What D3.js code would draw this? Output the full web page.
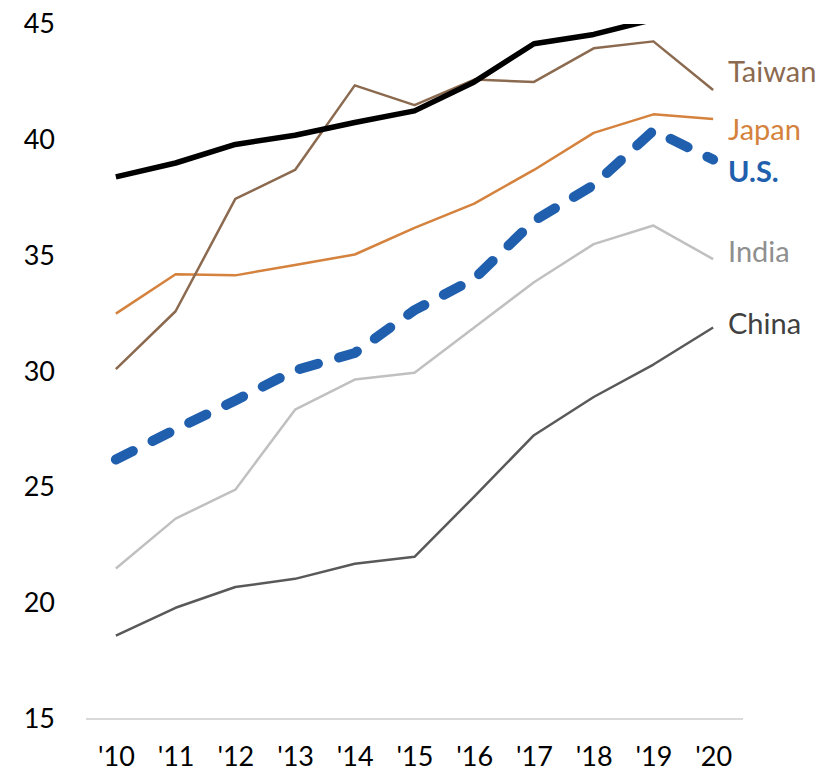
<!DOCTYPE html>
<html>
<head>
<meta charset="utf-8">
<script src="https://cdn.jsdelivr.net/npm/d3@7"></script>
<style>
  html, body { margin: 0; padding: 0; background: #fff; }
  svg { display: block; font-family: Lato, "Open Sans", sans-serif; }
</style>
</head>
<body>
<svg id="chart" width="834" height="773"></svg>
<script>
// Years on the category axis
const years = ["'10", "'11", "'12", "'13", "'14", "'15", "'16", "'17", "'18", "'19", "'20"];
const yTicks = [15, 20, 25, 30, 35, 40, 45];

// Series values, one per year
const leader = [38.4, 39.0, 39.8, 40.2, 40.75, 41.25, 42.5, 44.15, 44.55, 45.2, 46.0];
const taiwan = [30.1, 32.6, 37.45, 38.7, 42.35, 41.5, 42.6, 42.5, 43.95, 44.25, 42.15];
const japan  = [32.5, 34.2, 34.15, 34.6, 35.05, 36.2, 37.25, 38.7, 40.3, 41.1, 40.9];
const us     = [26.2, 27.5, 28.75, 30.05, 30.8, 32.65, 34.0, 36.5, 38.05, 40.4, 39.15];
const india  = [21.5, 23.65, 24.9, 28.35, 29.65, 29.95, 31.9, 33.85, 35.5, 36.3, 34.85];
const china  = [18.6, 19.8, 20.7, 21.05, 21.7, 22.0, 24.6, 27.25, 28.9, 30.3, 31.9];

const series = [
  { name: "India",  values: india,  color: "#c0c0c0", width: 2.5, label: "#8f8f8f", dy: 3 },
  { name: "China",  values: china,  color: "#595959", width: 2.5, label: "#404040", dy: 7 },
  { name: "Japan",  values: japan,  color: "#d4823d", width: 2.5, label: "#d4823d", dy: 21 },
  { name: "Taiwan", values: taiwan, color: "#8b6a4f", width: 2.5, label: "#8b6a4f", dy: -8 },
  { name: "",       values: leader, color: "#000000", width: 5.5 },
  { name: "U.S.",   values: us,     color: "#1f5fad", width: 10,  label: "#1f5fad", dy: 22, dash: "19 22", bold: true }
];

const svg = d3.select("#chart");
const plotLeft = 86, plotRight = 743, plotTop = 24, plotBottom = 719;

const x = d3.scalePoint().domain(years).range([plotLeft, plotRight]).padding(0.5);
const y = d3.scaleLinear().domain([15, 45]).range([plotBottom, plotTop]);

svg.append("defs").append("clipPath").attr("id", "plot")
  .append("rect").attr("x", plotLeft).attr("y", plotTop)
  .attr("width", plotRight - plotLeft).attr("height", plotBottom - plotTop);

// Y axis: labels only
const yAxis = svg.append("g").attr("transform", `translate(${plotLeft},0)`)
  .call(d3.axisLeft(y).tickValues(yTicks).tickSize(0).tickPadding(31));
yAxis.select(".domain").remove();
yAxis.selectAll("text").attr("font-size", 27).attr("fill", "#000")
  .attr("font-family", "Lato, sans-serif");

// X axis: light baseline plus year labels
const xAxis = svg.append("g").attr("transform", `translate(0,${plotBottom})`)
  .call(d3.axisBottom(x).tickSize(0).tickPadding(28));
xAxis.select(".domain").attr("stroke", "#d9d9d9").attr("stroke-width", 2)
  .attr("d", `M${plotLeft},0H${plotRight}`);
xAxis.selectAll("text").attr("font-size", 27).attr("fill", "#000")
  .attr("font-family", "Lato, sans-serif");

const line = d3.line()
  .x((d, i) => x(years[i]))
  .y(d => y(d));

const plot = svg.append("g").attr("clip-path", "url(#plot)");
series.forEach(s => {
  plot.append("path")
    .datum(s.values)
    .attr("d", line)
    .attr("fill", "none")
    .attr("stroke", s.color)
    .attr("stroke-width", s.width)
    .attr("stroke-linejoin", "round")
    .attr("stroke-linecap", s.dash ? "round" : "butt")
    .attr("stroke-dasharray", s.dash || null);
});

// End-of-line series labels
series.filter(s => s.name).forEach(s => {
  const last = s.values[s.values.length - 1];
  svg.append("text")
    .attr("x", 728)
    .attr("y", y(last) + s.dy)
    .attr("font-size", 29)
    .attr("font-weight", s.bold ? 700 : 400)
    .attr("fill", s.label)
    .text(s.name);
});
</script>
</body>
</html>
